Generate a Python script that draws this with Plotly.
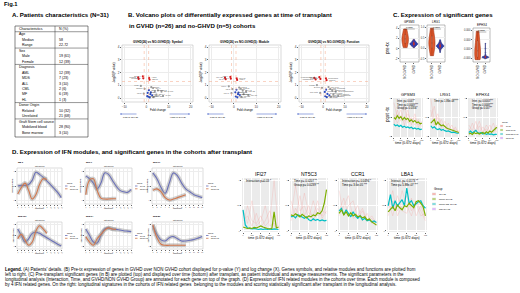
import plotly.graph_objects as go

W, H = 520, 293
FONT = "Liberation Sans"

# ---------------- A. patients table ----------------
tbl_labels = ["Characteristics", "Age", "Median", "Range", "Sex", "Male", "Female",
              "Diagnosis", "AML", "MDS", "ALL", "CML", "MF", "HL",
              "Donor Origin", "Related", "Unrelated",
              "Graft Stem cell source", "Mobilized blood", "Bone marrow"]
tbl_values = ["N (%)", "", "58", "22-72", "", "19 (61)", "12 (39)",
              "", "12 (39)", "7 (23)", "3 (10)", "2 (6)", "6 (19)", "1 (3)",
              "", "10 (32)", "21 (68)", "", "28 (90)", "3 (10)"]
tbl_level = [0, 0, 1, 1, 0, 1, 1, 0, 1, 1, 1, 1, 1, 1, 0, 1, 1, 0, 1, 1]

# ---------------- B. volcano plots ----------------
vol_titles = ["GVHD(26) vs NO-GVHD(5): Symbol",
              "GVHD(26) vs NO-GVHD(5): Module",
              "GVHD(26) vs NO-GVHD(5): Function"]
fc_cut = 1
p_cut = 1.3

sym_fc = [-3.7, -3.5, -1.6, -1.4, 1.2, 1.4, -2.5, -0.8, 0.6, 1.1, 2.2, 3.0, 3.8, 5.2, 6.8,
          1.8, 2.6, 0.9, 4.5, 1.5, 2.0, 7.5, -1.2, 0.4, 3.2]
sym_lp = [1.62, 1.50, 1.70, 1.55, 1.58, 1.44, 0.95, 0.72, 0.40, 0.62, 0.85, 0.78, 0.55, 0.60, 0.50,
          0.30, 0.22, 0.10, 0.28, 0.05, 0.45, 0.18, 0.35, 0.15, 0.08]
sym_grp = ["r", "r", "r", "r", "r", "r", "g", "g", "b", "b", "g", "g", "g", "g", "g",
           "b", "b", "b", "g", "b", "b", "g", "g", "b", "g"]
sym_lab = ["GPSM3", "LRG1", "EPHX4", "MMP9", "ARG1", "CD177", "IFI27", "NT5C3", "CCR1", "LBA1",
           "S100P", "OLAH", "FCER1A", "MS4A3", "CEACAM8", "HP", "ORM1", "ANXA3", "DEFA4", "BPI",
           "LTF", "CAMP", "MPO", "ELANE", "RNASE3"]

mod_fc = [-3.9, -3.6, -1.5, -1.3, 1.3, 1.5, -2.2, -0.6, 0.7, 1.2, 2.4, 3.1, 4.0, 5.5, 1.9,
          2.7, 0.9, 4.4, 1.6, 2.1, 6.5, -1.0, 3.4]
mod_lp = [1.60, 1.48, 1.66, 1.52, 1.55, 1.42, 0.92, 0.70, 0.45, 0.65, 0.82, 0.75, 0.58, 0.52, 0.30,
          0.24, 0.12, 0.30, 0.06, 0.42, 0.20, 0.38, 0.10]
mod_grp = ["r", "r", "r", "r", "r", "r", "g", "g", "b", "b", "g", "g", "g", "g", "b",
           "b", "b", "g", "b", "b", "g", "g", "g"]
mod_lab = ["M14.23", "M9.2", "M12.4", "M14.5", "M16.92", "M13.9", "M10.1", "M8.3", "M15.64",
           "M15.86", "M11.3", "M12.15", "M14.42", "M16.33", "M13.17", "M15.127", "M9.1",
           "M11.2", "M12.10", "M13.22", "M14.80", "M8.46", "M16.65"]

fun_fc = [-4.0, -3.4, -1.7, -1.2, 1.3, 1.6, -2.8, -0.5, 0.8, 1.4, 2.5, 3.3, 4.2, 5.8, 2.0,
          2.9, 1.0, 4.7, 1.7, 6.9, -1.3, 3.6]
fun_lp = [1.58, 1.46, 1.64, 1.50, 1.55, 1.40, 1.02, 0.80, 0.48, 0.66, 0.86, 0.72, 0.58, 0.50, 0.32,
          0.22, 0.14, 0.28, 0.07, 0.18, 0.40, 0.10]
fun_grp = ["r", "r", "r", "r", "r", "r", "g", "g", "b", "b", "g", "g", "g", "g", "b",
           "b", "b", "g", "b", "g", "g", "g"]
fun_lab = ["Lymphocytes", "Inflammation", "Interferon", "Cytotoxic", "Neutrophils", "Platelet",
           "T cells", "B cells", "Monocytes", "Erythroid", "Cell cycle", "Prot. synthesis",
           "Plasma cells", "Gene transcription", "Oxidative phos.", "Heme", "NK cells",
           "Antigen present.", "Cell death", "Prostanoids", "TGF-beta", "Inflammation"]

# ---------------- C. violins (pre-tx) ----------------
vio_genes = ["GPSM3", "LRG1", "EPHX4"]
vio_pvals = ["0.0236", "0.0308", "0.0385"]
vio_no = [[3.8, 2.4, 1.9, 1.3, 0.2],
          [0.95, 0.45, 0.25, 0.12, -0.35],
          [0.0038, 0.0011, -0.0004, -0.0016, -0.0023]]
vio_gv = [[0.2, 0.4, 0.5, 0.6, 0.7, 0.7, 0.8, 0.8, 0.8, 0.9, 0.9, 0.9, 1.0,
           1.0, 1.0, 1.0, 1.1, 1.1, 1.2, 1.2, 1.3, 1.4, 1.5, 1.6, 1.8, 0.6],
          [-0.2, -0.1, -0.05, 0.0, 0.02, 0.05, 0.06, 0.08, 0.08, 0.1, 0.1, 0.1, 0.12,
           0.12, 0.13, 0.14, 0.15, 0.16, 0.18, 0.2, 0.22, 0.25, 0.28, 0.32, 0.4, 0.05],
          [-0.0021, -0.002, -0.002, -0.0019, -0.0019, -0.0019, -0.0018, -0.0018, -0.0018,
           -0.0018, -0.0018, -0.0018, -0.0017, -0.0017, -0.0017, -0.0017, -0.0017, -0.0016,
           -0.0016, -0.0016, -0.0015, -0.0014, -0.0012, -0.0008, 0.0001, 0.0012]]
vio_ranges = [[-2.6, 4.6], [-0.65, 1.1], [-0.0028, 0.0045]]
vio_ticks = [[-2, 0, 2, 4], [-0.5, 0.0, 0.5, 1.0], [-0.002, 0.0, 0.002, 0.004]]
vio_ticktext = [["-2", "0", "2", "4"], ["-0.5", "0.0", "0.5", "1.0"],
                ["-0.000", "0.000", "0.000", "0.000"]]

# ---------------- longitudinal data (days) ----------------
days = [0, 42, 84, 126, 168, 210, 252, 294, 336, 378, 420, 462, 504, 546, 588, 630, 672]
days9 = [0, 84, 168, 252, 336, 420, 504, 588, 672]

c_genes = ["GPSM3", "LRG1", "EPHX4"]
c_stats = [["Inter. p= 0.047*", "Time p= 0.0009***", "Group p= 0.0356*"],
           ["Time p= 1.86e-08****"],
           ["Inter. p= 0.0003***", "Time p= 0.0008***", "Group p= 0.007**"]]
c_mean_gv = [[0.5, 0.46, 0.55, 0.48, 0.52, 0.44, 0.5, 0.45, 0.48, 0.4, 0.44, 0.38, 0.42, 0.36, 0.38, 0.33, 0.35],
             [0.35, 0.4, 0.45, 0.3, 0.38, 0.32, 0.28, 0.3, 0.25, 0.22, 0.2, 0.18, 0.17, 0.15, 0.14, 0.12, 0.1],
             [0.06, 0.08, 0.05, 0.1, 0.07, 0.09, 0.06, 0.08, 0.1, 0.07, 0.12, 0.09, 0.14, 0.11, 0.16, 0.2, 0.24]]
c_mean_no = [[0.32, 0.28, 0.3, 0.26, 0.29, 0.24, 0.27, 0.23, 0.25, 0.22, 0.24, 0.2, 0.22, 0.19, 0.21, 0.18, 0.19],
             [0.28, 0.22, 0.25, 0.2, 0.18, 0.2, 0.16, 0.18, 0.15, 0.13, 0.14, 0.12, 0.1, 0.11, 0.09, 0.08, 0.08],
             [0.1, 0.14, 0.09, 0.12, 0.16, 0.1, 0.08, 0.1, 0.06, 0.08, 0.05, 0.07, 0.05, 0.06, 0.04, 0.05, 0.05]]
c_indiv = [[[0.9, 0.5, 0.7, 0.3, 0.6, 0.4, 0.5, 0.3, 0.4],
            [0.3, 0.7, 0.4, 0.8, 0.35, 0.5, 0.3, 0.45, 0.25],
            [0.6, 0.35, 0.55, 0.4, 0.7, 0.3, 0.6, 0.25, 0.35]],
           [[1.0, 0.4, 0.6, 0.3, 0.2, 0.35, 0.15, 0.2, 0.1],
            [0.5, 0.8, 0.3, 0.45, 0.25, 0.15, 0.3, 0.1, 0.15],
            [0.7, 0.3, 0.5, 0.2, 0.4, 0.2, 0.1, 0.25, 0.08]],
           [[0.3, 0.15, 0.4, 0.1, 0.25, 0.12, 0.3, 0.1, 0.2],
            [0.1, 0.35, 0.12, 0.28, 0.1, 0.3, 0.15, 0.35, 0.1],
            [0.2, 0.08, 0.18, 0.4, 0.12, 0.2, 0.08, 0.15, 0.3]]]

d_genes = ["IFI27", "NT5C3", "CCR1", "LBA1"]
d_stats = [["Interaction p=0.03 *"],
           ["Time p= 0.0207 **", "Group p= 0.0239 **"],
           ["Interaction p= 0.0494 *", "Time p= 3.6e-05 ***"],
           ["Interact. p= 0.0173 **", "Time p= 5.88e-07 ***"]]
d_mean_gv = [[0.08, 0.06, 0.05, 0.06, 0.05, 0.07, 0.06, 0.08, 0.1, 0.08, 0.06, 0.05, 0.04, 0.05, 0.38, 0.06, 0.08],
             [0.32, 0.3, 0.34, 0.3, 0.28, 0.33, 0.3, 0.26, 0.3, 0.28, 0.32, 0.3, 0.36, 0.34, 0.4, 0.55, 0.82],
             [0.35, 0.42, 0.32, 0.38, 0.3, 0.36, 0.3, 0.33, 0.28, 0.3, 0.26, 0.28, 0.22, 0.24, 0.18, 0.15, 0.12],
             [0.38, 0.42, 0.48, 0.4, 0.52, 0.46, 0.42, 0.5, 0.48, 0.55, 0.5, 0.46, 0.58, 0.6, 0.55, 0.48, 0.3]]
d_mean_no = [[0.42, 0.12, 0.06, 0.05, 0.04, 0.05, 0.04, 0.03, 0.04, 0.03, 0.04, 0.03, 0.04, 0.03, 0.04, 0.03, 0.03],
             [0.28, 0.3, 0.26, 0.32, 0.3, 0.27, 0.25, 0.28, 0.22, 0.2, 0.24, 0.21, 0.23, 0.2, 0.22, 0.2, 0.21],
             [0.4, 0.45, 0.32, 0.42, 0.35, 0.28, 0.38, 0.3, 0.25, 0.3, 0.22, 0.25, 0.2, 0.22, 0.18, 0.2, 0.17],
             [0.5, 0.72, 0.45, 0.6, 0.5, 0.55, 0.62, 0.5, 0.85, 0.55, 0.6, 0.5, 0.55, 0.58, 0.6, 0.5, 0.45]]
d_indiv = [[[0.1, 0.5, 0.2, 0.15, 0.3, 0.1, 0.2, 1.0, 0.05],
            [0.4, 0.15, 0.6, 0.1, 0.2, 0.5, 0.1, 0.15, 0.1],
            [0.2, 0.3, 0.1, 0.35, 0.08, 0.2, 0.4, 0.1, 0.06]],
           [[0.3, 0.9, 0.4, 0.5, 0.25, 0.6, 0.3, 0.4, 0.35],
            [0.6, 0.25, 0.7, 0.3, 0.5, 0.2, 0.45, 0.3, 0.5],
            [0.2, 0.45, 0.3, 0.75, 0.35, 0.3, 0.6, 0.25, 0.4]],
           [[0.8, 0.3, 0.5, 0.6, 0.25, 0.4, 0.2, 0.3, 0.15],
            [0.4, 0.65, 0.3, 0.35, 0.5, 0.2, 0.35, 0.15, 0.2],
            [0.3, 0.5, 0.7, 0.25, 0.3, 0.45, 0.2, 0.25, 0.1]],
           [[0.3, 0.6, 0.4, 0.8, 0.5, 0.3, 0.6, 0.4, 0.2],
            [0.6, 0.3, 0.7, 0.4, 0.35, 0.65, 0.3, 0.5, 0.25],
            [0.45, 0.8, 0.3, 0.5, 0.7, 0.4, 0.55, 0.3, 0.35]]]

group_names = ["GVHD", "mean GVHD", "mean NO GVHD", "NO GVHD"]
group_cols = ["#F8766D", "#7CAE00", "#00BFC4", "#C77CFF"]

# ---------------- D. IFN modules ----------------
timepoint = [1, 2, 3, 4, 5, 6, 7, 8, 9, 10, 11, 12, 13]
mod_names = ["M8.3", "M10.1", "M13.17", "M15.127", "M15.64", "M15.86"]
mod_gvhd = [[0.5, 0.52, 0.52, 0.55, 0.7, 0.97, 0.9, 0.8, 0.68, 0.55, 0.42, 0.28, 0.1],
            [0.85, 0.75, 0.6, 0.4, 0.6, 0.95, 0.9, 0.7, 0.5, 0.35, 0.3, 0.28, 0.38],
            [0.95, 0.75, 0.45, 0.25, 0.6, 0.95, 0.85, 0.6, 0.4, 0.3, 0.2, 0.15, 0.1],
            [0.8, 0.5, 0.2, 0.35, 0.6, 0.65, 0.6, 0.5, 0.4, 0.3, 0.2, 0.1, 0.02],
            [0.8, 0.5, 0.2, 0.15, 0.5, 0.8, 0.85, 0.8, 0.78, 0.75, 0.72, 0.7, 0.68],
            [0.95, 0.55, 0.3, 0.25, 0.4, 0.45, 0.35, 0.25, 0.25, 0.28, 0.32, 0.38, 0.45]]
mod_nogvhd = [[0.22, 0.45, 0.6, 0.35, 0.05, 0.2, 0.55, 0.75, 0.72],
              [0.2, 0.7, 0.75, 0.35, 0.08, 0.05, 0.05, 0.06, 0.06],
              [0.35, 0.4, 0.3, 0.1, 0.02, 0.05, 0.1, 0.15, 0.2],
              [0.35, 0.55, 0.3, 0.05, 0.2, 0.7, 0.95, 0.8, 0.6],
              [0.45, 0.2, 0.05, 0.35, 0.55, 0.75, 0.85, 0.8, 0.78],
              [1.0, 0.4, 0.1, 0.05, 0.05, 0.05, 0.05, 0.05, 0.05]]

legend_text = [
    "<b>Legend.</b> (A) Patients' details. (B) Pre-tx expression of genes in GVHD over NON GVHD cohort displayed for p-value (Y) and log change (X). Genes symbols, and relative modules and functions are plotted from",
    "left to right. (C) Pre-transplant significant genes (in B) are plotted (top) and displayed over time (bottom) after transplant, as patient individual and average measurements. The significant parameters in the",
    "longitudinal analysis (Interaction, Time, and GVHD/NON GVHD Group) are annotated for each gene on top of the graph. (D) Expression of IFN related modules in the cohorts over time. Each module is composed",
    "by 4 IFN related genes. On the right: longitudinal signatures in the cohorts of IFN related genes  belonging to the modules and scoring statistically significant after transplant in the longitudinal analysis.",
]

# =====================================================================
fig = go.Figure()
ann, shp, lay = [], [], {}


def T(x, y, s, size=4, bold=False, xa="left", ya="middle", color="black", angle=0):
    ann.append(dict(x=x / W, y=1 - y / H, xref="paper", yref="paper",
                    text=f"<b>{s}</b>" if bold else s, showarrow=False,
                    xanchor=xa, yanchor=ya, textangle=angle,
                    font=dict(family=FONT, size=size, color=color)))


def R(x0, y0, x1, y1, fill=None, line=None, lw=0.5, layer="below"):
    shp.append(dict(type="rect", xref="paper", yref="paper",
                    x0=x0 / W, x1=x1 / W, y0=1 - y1 / H, y1=1 - y0 / H,
                    fillcolor=fill or "rgba(0,0,0,0)",
                    line=dict(color=line or "rgba(0,0,0,0)", width=lw), layer=layer))


def L(x0, y0, x1, y1, color="black", lw=0.5, dash="solid"):
    shp.append(dict(type="line", xref="paper", yref="paper",
                    x0=x0 / W, x1=x1 / W, y0=1 - y0 / H, y1=1 - y1 / H,
                    line=dict(color=color, width=lw, dash=dash)))


count = [0]


def axes(x0, x1, y0, y1, xr=None, yr=None, bg="white", grid="#E6E6E6", frame=None,
         tick=2.2, xtv=None, ytv=None, ytt=None, xcat=None, xangle=0, showx=True, showy=True):
    count[0] += 1
    n = count[0]
    s = "" if n == 1 else str(n)
    R(x0, y0, x1, y1, fill=bg, line=frame, lw=0.5)
    base = dict(showgrid=True, gridcolor=grid, gridwidth=0.5, zeroline=False, showline=False,
                ticks="outside", ticklen=1, tickwidth=0.4, tickcolor="#666666",
                tickfont=dict(family=FONT, size=tick, color="#333333"), fixedrange=True)
    xa = dict(base, domain=[x0 / W, x1 / W], anchor="y" + s, showticklabels=showx)
    ya = dict(base, domain=[1 - y1 / H, 1 - y0 / H], anchor="x" + s, showticklabels=showy)
    if xcat:
        xa.update(type="category", categoryorder="array", categoryarray=xcat,
                  range=[-0.6, len(xcat) - 0.4], tickangle=xangle, showgrid=False)
    elif xr:
        xa["range"] = xr
    if yr:
        ya["range"] = yr
    if xtv:
        xa["tickvals"] = xtv
    if ytv:
        ya["tickvals"] = ytv
        if ytt:
            ya["ticktext"] = ytt
    lay["xaxis" + s] = xa
    lay["yaxis" + s] = ya
    return "x" + s, "y" + s


# ---------------- titles ----------------
TS = 6.1
T(2, 4, "Fig.1", 5.8, bold=True)
T(10, 14, "A. Patients characteristics (N=31)", TS, bold=True)
T(126, 14, "B. Volcano plots of differentially expressed genes at time of transplant", TS, bold=True)
T(127, 25, "in GVHD (n=26) and no-GHVD (n=5) cohorts", TS, bold=True)
T(391, 14, "C. Expression of significant genes", TS, bold=True)
T(10, 152, "D. Expression of IFN modules, and significant genes in the cohorts after transplant", TS, bold=True)

# ---------------- A. table ----------------
ty0, tstep = 29.0, 5.45
R(15, 26, 88, 137, line="#333333", lw=0.6)
L(55, 26, 55, 137, "#333333", 0.5)
for i, (lab, val, lev) in enumerate(zip(tbl_labels, tbl_values, tbl_level)):
    y = ty0 + i * tstep
    T(17 + 3 * lev, y, lab, 3.55)
    T(57, y, val, 3.55)
    if i > 0 and lev == 0:
        L(15, y - tstep / 2, 88, y - tstep / 2, "#333333", 0.5)

# ---------------- B. volcanoes ----------------
grp_colors = {"r": "#D7191C", "b": "#2C4BBF", "g": "#9A9A9A"}
vols = [(sym_fc, sym_lp, sym_grp, sym_lab, 122, 193),
        (mod_fc, mod_lp, mod_grp, mod_lab, 209, 281),
        (fun_fc, fun_lp, fun_grp, fun_lab, 299, 369)]
for (fc, lp, grp, lab, x0, x1), title in zip(vols, vol_titles):
    xa, ya = axes(x0, x1, 45, 102, xr=[-11, 21], yr=[-0.31, 4.16], grid="#ECECEC",
                  frame="#B0B0B0", tick=3.0, xtv=[-10, 0, 10, 20], ytv=[0, 1, 2, 3, 4])
    fig.add_trace(go.Scatter(x=fc, y=lp, mode="markers+text", text=lab,
                             textposition=["middle left" if v < 0 else "middle right" for v in fc],
                             textfont=dict(family=FONT, size=1.9, color="#555555"),
                             marker=dict(size=2.2, color=[grp_colors[g] for g in grp]),
                             xaxis=xa, yaxis=ya, showlegend=False, cliponaxis=True))
    for v in (-fc_cut, fc_cut):
        shp.append(dict(type="line", xref=xa, yref=ya + " domain", x0=v, x1=v, y0=0, y1=1,
                        line=dict(color="#F4A582", width=0.5, dash="dot")))
    shp.append(dict(type="line", xref=xa + " domain", yref=ya, x0=0, x1=1, y0=p_cut, y1=p_cut,
                    line=dict(color="#F4A582", width=0.5, dash="dot")))
    T((x0 + x1) / 2, 42, title, 3.0, bold=True, xa="center")
    T(x0 - 8, 73, "-Log10(P value)", 2.9, xa="center", angle=-90)
    T((x0 + x1) / 2, 110.5, "Fold change", 2.9, xa="center")
    for hx, tx in ((x0 - 2, 18), (x0 + 68, -22)):
        ann.append(dict(x=hx / W, y=1 - 114 / H, xref="paper", yref="paper", text="",
                        showarrow=True, ax=tx, ay=0, arrowhead=2, arrowsize=0.6,
                        arrowwidth=0.5, arrowcolor="#3050C0"))
    T(x0 + 8, 117.5, "Low in GVHD", 2.5, xa="center")
    T(x0 + 56, 117.5, "High in GVHD", 2.5, xa="center")

# ---------------- C. violins ----------------
T(387, 48, "pre-tx", 4.6, xa="center", angle=-90)
T(387, 114, "post -tx", 4.6, xa="center", angle=-90)
vio_x = [(400, 419), (427, 445), (473, 490)]
cats = ["NO GVHD", "GVHD"]
for k, (x0, x1) in enumerate(vio_x):
    top = 25 if k < 2 else 28
    xa, ya = axes(x0, x1, top, 62, yr=vio_ranges[k], grid="#EFEFEF", frame="#777777",
                  tick=2.6, ytv=vio_ticks[k], ytt=vio_ticktext[k], xcat=cats, xangle=-90)
    lay["xaxis" + xa[1:]]["tickfont"] = dict(family=FONT, size=2.9, color="#222222")
    fig.add_trace(go.Violin(x=["NO GVHD"] * len(vio_no[k]), y=vio_no[k], fillcolor="#E2592C",
                            line=dict(color="#A33414", width=0.6), opacity=1, points=False,
                            box=dict(visible=True, width=0.15, fillcolor="#F6B59A",
                                     line=dict(color="#7A2410", width=0.4)),
                            width=0.75, spanmode="hard", xaxis=xa, yaxis=ya, showlegend=False))
    fig.add_trace(go.Violin(x=["GVHD"] * len(vio_gv[k]), y=vio_gv[k], fillcolor="#2B3FB2",
                            line=dict(color="#131D6E", width=0.6), opacity=1, points=False,
                            box=dict(visible=True, width=0.15, fillcolor="#D7301F",
                                     line=dict(color="#D7301F", width=0.4)),
                            width=0.9, spanmode="hard", xaxis=xa, yaxis=ya, showlegend=False))
    cx = (x0 + x1) / 2
    T(cx, top - 3.2, vio_genes[k], 3.0, xa="center")
    bw = (x1 - x0) * 0.45
    L(cx - bw / 2 - 1, top + 4, cx + bw / 2 + 1, top + 4, "#444444", 0.4)
    T(cx, top + 2.4, vio_pvals[k], 2.2, xa="center")


# ---------------- longitudinal helpers ----------------
def long_panel(x0, x1, y0, y1, title, stats, indiv, mgv, mno, tsize, ssize, yr):
    xa, ya = axes(x0, x1, y0, y1, xr=[-20, 700], yr=yr, bg="#EBEBEB", grid="#FFFFFF",
                  tick=1.8, xtv=[0, 168, 336, 504, 672], ytv=[0, 0.5, 1.0])
    for ind in indiv:
        fig.add_trace(go.Scatter(x=days9, y=ind, mode="lines",
                                 line=dict(color="rgba(248,118,109,0.35)", width=0.5),
                                 xaxis=xa, yaxis=ya, showlegend=False))
    fig.add_trace(go.Scatter(x=days, y=mno, mode="lines", line=dict(color=group_cols[2], width=1.2),
                             xaxis=xa, yaxis=ya, showlegend=False))
    fig.add_trace(go.Scatter(x=days, y=mgv, mode="lines", line=dict(color=group_cols[1], width=1.2),
                             xaxis=xa, yaxis=ya, showlegend=False))
    T((x0 + x1) / 2, y0 - 4, title, tsize, xa="center")
    for j, s in enumerate(stats):
        T(x0 + 2, y0 + 3 + j * (ssize + 0.9), s, ssize)
    T((x0 + x1) / 2, y1 + 5.5, "time (0-672 days)", 3.3, xa="center")


def group_legend(x, y, size, gap):
    T(x, y, "Group", size)
    for j, (nm, col) in enumerate(zip(group_names, group_cols)):
        yy = y + (j + 1) * gap
        R(x, yy - gap * 0.35, x + gap * 0.8, yy + gap * 0.35, fill="#F2F2F2", layer="above")
        L(x + 0.3, yy, x + gap * 0.8 - 0.3, yy, col, 0.9)
        T(x + gap * 0.8 + 1.2, yy, nm, size * 0.8)


# C bottom
c_x = [(393, 423), (430, 460), (468, 498)]
for k, (x0, x1) in enumerate(c_x):
    long_panel(x0, x1, 98, 137, c_genes[k], c_stats[k], c_indiv[k], c_mean_gv[k],
               c_mean_no[k], 4.0, 2.6, [-0.02, 1.02])
group_legend(500, 122, 2.1, 4.0)

# D right
d_x = [(242, 280), (290, 328), (338, 378), (387, 427)]
for k, (x0, x1) in enumerate(d_x):
    long_panel(x0, x1, 178, 232, d_genes[k], d_stats[k], d_indiv[k], d_mean_gv[k],
               d_mean_no[k], 5.0, 2.9, [-0.02, 1.05])
group_legend(432, 189, 3.0, 5.0)

# ---------------- D. modules ----------------
mod_cols = [(17, 62), (85, 132), (152, 203)]
mod_rows = [(168, 204), (222, 249)]
for k in range(6):
    x0, x1 = mod_cols[k % 3]
    y0, y1 = mod_rows[k // 3]
    xa, ya = axes(x0, x1, y0, y1, xr=[0.8, 13.2], yr=[-0.12, 1.12], grid="#EDEDED",
                  frame="#BBBBBB", tick=1.6, xtv=timepoint, ytv=[0, 0.5, 1.0])
    for ys, col in ((mod_gvhd[k], "#6A70B8"), (mod_nogvhd[k], "#D2784E")):
        xs = timepoint[:len(ys)]
        fig.add_trace(go.Scatter(x=xs, y=ys, mode="lines", line=dict(color="rgba(150,150,150,0.45)",
                                 width=4, shape="spline", smoothing=1.1),
                                 xaxis=xa, yaxis=ya, showlegend=False))
        fig.add_trace(go.Scatter(x=xs, y=ys, mode="lines", line=dict(color=col, width=1.1,
                                 shape="spline", smoothing=1.1),
                                 xaxis=xa, yaxis=ya, showlegend=False))
    T(x0 - 1, y0 - 6, mod_names[k], 2.2, bold=True)
    T((x0 + x1) / 2, y0 - 2.5, "Interferon", 2.2, xa="center")
    T(x0 - 5, (y0 + y1) / 2, "Expression value", 1.9, xa="center", angle=-90)
    T((x0 + x1) / 2, y1 + 3.5, "Timepoint", 2.0, xa="center")
    lx = x1 + 3
    ly = (y0 + y1) / 2 - 3
    T(lx, ly, "Group", 1.9)
    for j, (nm, col) in enumerate((("GVHD", "#6A70B8"), ("NO GVHD", "#D2784E"))):
        yy = ly + 3 + j * 2.8
        L(lx, yy, lx + 2.5, yy, col, 0.8)
        T(lx + 3.2, yy, nm, 1.7)

# ---------------- figure legend text ----------------
for j, line in enumerate(legend_text):
    T(3, 269.5 + j * 5.0, line, 4.45)

fig.update_layout(
    lay,
    width=W, height=H, margin=dict(l=0, r=0, t=0, b=0), autosize=False,
    paper_bgcolor="white", plot_bgcolor="rgba(0,0,0,0)",
    annotations=ann, shapes=shp, showlegend=False,
    font=dict(family=FONT, size=4),
)
# drop the page's default body margin so the figure sits at the window's corner
fig.write_html("out.html", config={"displayModeBar": False},
               post_script="document.body.style.margin='0';")
